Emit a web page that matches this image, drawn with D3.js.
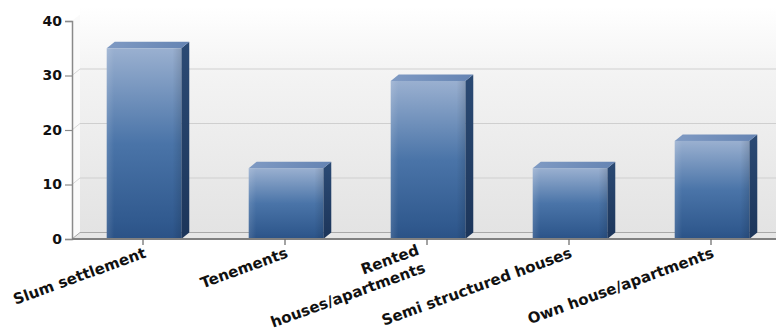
<!DOCTYPE html>
<html>
<head>
<meta charset="utf-8">
<script src="https://cdn.jsdelivr.net/npm/d3@7"></script>
<style>
  html, body { margin: 0; padding: 0; background: #ffffff; }
  svg { display: block; }
  text { font-family: "DejaVu Sans", Verdana, sans-serif; font-weight: bold; fill: #111; }
</style>
</head>
<body>
<svg id="chart" width="776" height="332"></svg>
<script>
// Housing type categories (line breaks marked with \n)
const categories = ["Slum settlement", "Tenements", "Rented\nhouses/apartments", "Semi structured houses", "Own house/apartments"];
const values = [35, 13, 29, 13, 18];
const yTicks = [0, 10, 20, 30, 40];

const W = 776, H = 332;
const margin = { left: 72, right: -6, top: 21, bottom: 93 };
const depth = { dx: 8, dy: -6.5 };

const svg = d3.select("#chart");
const defs = svg.append("defs");

const x = d3.scaleBand()
  .domain(categories)
  .range([margin.left, W - margin.right])
  .padding(0);

const y = d3.scaleLinear()
  .domain([0, 40])
  .range([H - margin.bottom, margin.top]);

const barW = x.bandwidth() * 0.525;
const x0 = y(0);

// Gradients
function linear(id, x2, y2, stops) {
  const g = defs.append("linearGradient").attr("id", id)
    .attr("x1", 0).attr("y1", 0).attr("x2", x2).attr("y2", y2);
  stops.forEach(s => g.append("stop").attr("offset", s[0]).attr("stop-color", s[1])
    .attr("stop-opacity", s[2] === undefined ? 1 : s[2]));
}
linear("wall", 0, 1, [[0, "#ffffff"], [0.3, "#f3f3f3"], [1, "#e3e3e3"]]);
linear("front", 0, 1, [[0, "#9ab0d0"], [0.5, "#4a74a8"], [0.92, "#30598e"], [1, "#2b5286"]]);
linear("shine", 1, 0, [[0, "#ffffff", 0.12], [0.1, "#ffffff", 0], [0.88, "#000000", 0], [1, "#000000", 0.12]]);
linear("topface", 1, 0, [[0, "#7f9ac3"], [1, "#6584b3"]]);
linear("side", 0, 1, [[0, "#2b4a74"], [1, "#1c355a"]]);

const xL = margin.left, xR = W - margin.right;
const yTop = y(40) + depth.dy;

// Back wall
svg.append("rect")
  .attr("x", xL + depth.dx).attr("y", yTop - 8)
  .attr("width", xR - xL).attr("height", x0 + depth.dy - yTop + 8)
  .attr("fill", "url(#wall)");

// Left wall
svg.append("path")
  .attr("d", `M${xL},${y(40)}L${xL + depth.dx},${yTop}L${xL + depth.dx},${x0 + depth.dy}L${xL},${x0}Z`)
  .attr("fill", "#fafafa");

// Back gridlines
const inner = yTicks.filter(t => t > 0 && t < 40);
svg.append("g").selectAll("line")
  .data(inner)
  .join("line")
  .attr("x1", xL + depth.dx).attr("x2", xR + depth.dx)
  .attr("y1", d => y(d) + depth.dy).attr("y2", d => y(d) + depth.dy)
  .attr("stroke", "#cfcfcf").attr("stroke-width", 1.2);

svg.append("g").selectAll("line")
  .data(inner)
  .join("line")
  .attr("x1", xL).attr("x2", xL + depth.dx)
  .attr("y1", d => y(d)).attr("y2", d => y(d) + depth.dy)
  .attr("stroke", "#d8d8d8").attr("stroke-width", 1);

// Floor
svg.append("path")
  .attr("d", `M${xL},${x0}L${xL + depth.dx},${x0 + depth.dy}L${xR + depth.dx},${x0 + depth.dy}L${xR},${x0}Z`)
  .attr("fill", "#e6e6e6").attr("stroke", "#a8a8a8").attr("stroke-width", 1);

// Bars
const bars = svg.append("g").selectAll("g")
  .data(categories.map((c, i) => ({ c, v: values[i] })))
  .join("g");

bars.each(function (d) {
  const g = d3.select(this);
  const cx = x(d.c) + x.bandwidth() / 2 + 1;
  const bx = cx - barW / 2;
  const by = y(d.v);
  const h = x0 - by;
  // side face
  g.append("path")
    .attr("d", `M${bx + barW},${by}L${bx + barW + depth.dx},${by + depth.dy}L${bx + barW + depth.dx},${x0 + depth.dy}L${bx + barW},${x0}Z`)
    .attr("fill", "url(#side)");
  // top face
  g.append("path")
    .attr("d", `M${bx},${by}L${bx + depth.dx},${by + depth.dy}L${bx + barW + depth.dx},${by + depth.dy}L${bx + barW},${by}Z`)
    .attr("fill", "url(#topface)");
  // front face
  g.append("rect").attr("x", bx).attr("y", by).attr("width", barW).attr("height", h)
    .attr("fill", "url(#front)");
  g.append("rect").attr("x", bx).attr("y", by).attr("width", barW).attr("height", h)
    .attr("fill", "url(#shine)");
});

// Y axis
const yAxis = svg.append("g")
  .attr("transform", `translate(${xL},0)`)
  .call(d3.axisLeft(y).tickValues(yTicks).tickSize(7).tickPadding(3));
yAxis.select(".domain").attr("stroke", "#8a8a8a").attr("stroke-width", 1.5);
yAxis.selectAll(".tick line").attr("stroke", "#8a8a8a").attr("stroke-width", 1.2);
yAxis.selectAll(".tick text")
  .style("font-family", "'DejaVu Sans', Verdana, sans-serif")
  .style("font-weight", "bold")
  .style("font-size", "14px")
  .attr("fill", "#111");

// X axis
const xAxis = svg.append("g")
  .attr("transform", `translate(0,${x0})`)
  .call(d3.axisBottom(x).tickSize(6).tickFormat(""));
xAxis.select(".domain").attr("stroke", "#808080").attr("stroke-width", 2)
  .attr("d", `M${xL},0H${xR}`);
xAxis.selectAll(".tick line").attr("stroke", "#666").attr("stroke-width", 1.2);

// Rotated category labels, right-aligned to the tick; wrapped labels sit a little higher
const angle = -20;
const labels = svg.append("g").selectAll("text")
  .data(categories)
  .join("text")
  .attr("text-anchor", "end")
  .style("font-size", "15px")
  .attr("transform", d => {
    const multi = d.includes("\n");
    const ax = x(d) + x.bandwidth() / 2 + (multi ? -7 : 4);
    const ay = x0 + (multi ? 15 : 18);
    return `translate(${ax},${ay}) rotate(${angle})`;
  });

labels.each(function (d) {
  const lines = d.split("\n");
  const t = d3.select(this);
  lines.forEach((ln, i) => {
    t.append("tspan").attr("x", 0).attr("dy", i === 0 ? 0 : 19).text(ln);
  });
});
</script>
</body>
</html>
